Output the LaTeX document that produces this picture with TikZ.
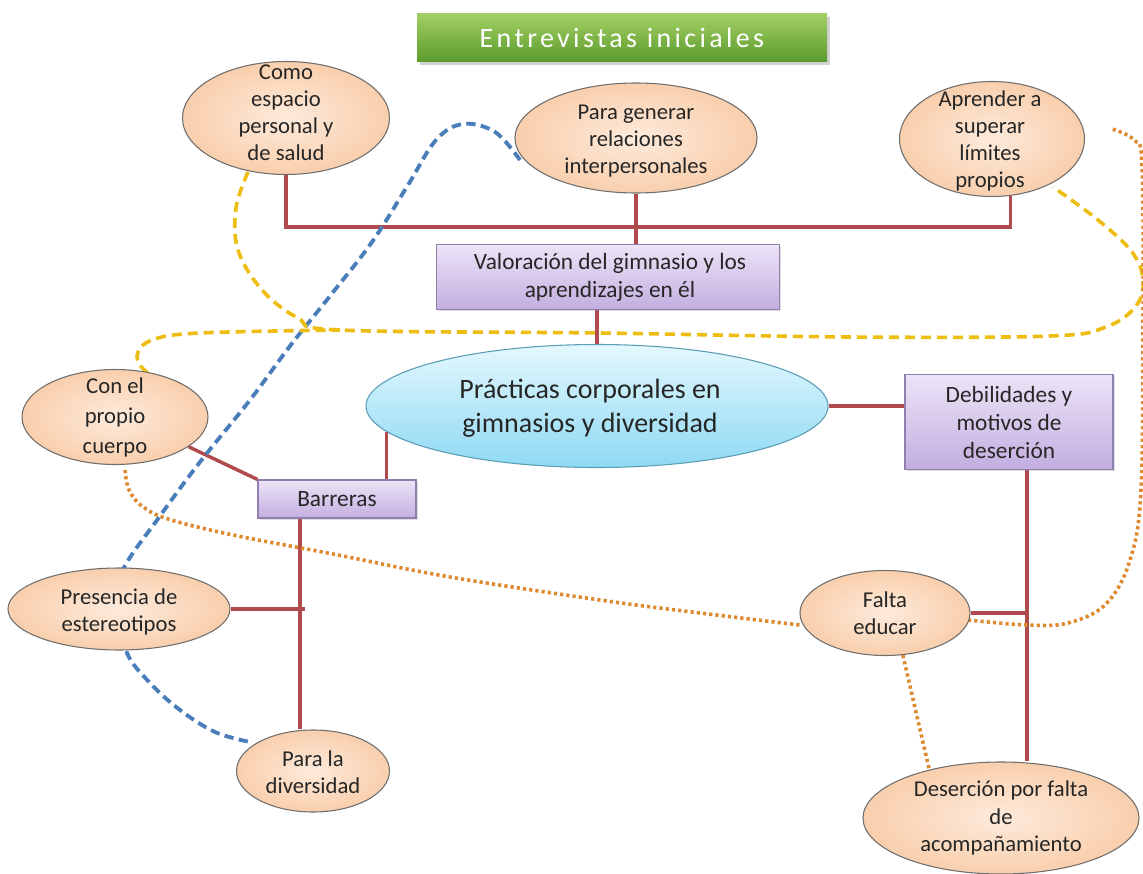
\documentclass[tikz,border=0pt]{standalone}
\usepackage{fontspec}
\setmainfont{Carlito}
\usetikzlibrary{shapes.geometric,shadows}
\definecolor{redline}{HTML}{B04A4C}
\definecolor{bluedash}{HTML}{4A7EBB}
\definecolor{yellowdash}{HTML}{EDBD12}
\definecolor{orangedot}{HTML}{DE8A30}
\definecolor{peachin}{HTML}{FDEADB}
\definecolor{peachout}{HTML}{F9CFAD}
\definecolor{ovalborder}{HTML}{6E6E6E}
\definecolor{boxtop}{HTML}{ECE4F7}
\definecolor{boxbot}{HTML}{C3AEE0}
\definecolor{boxborder}{HTML}{8F80B0}
\definecolor{cyanin}{HTML}{E4F8FE}
\definecolor{cyanout}{HTML}{8ED9F3}
\definecolor{cyanborder}{HTML}{5B9DB5}
\definecolor{greentop}{HTML}{A2CF64}
\definecolor{greenbot}{HTML}{5C9A2C}
\definecolor{textc}{HTML}{262626}
\pgfdeclarelayer{bg}
\pgfsetlayers{bg,main}
\tikzset{
  oval/.style={ellipse, draw=ovalborder, line width=0.8pt, inner sep=0pt,
    inner color=peachin, outer color=peachout},
  pbox/.style={rectangle, draw=boxborder, line width=0.8pt, inner sep=0pt,
    top color=boxtop, bottom color=boxbot,
    drop shadow={opacity=0.25, shadow xshift=1.2pt, shadow yshift=-1.2pt}},
  txt/.style={align=center, text=textc, inner sep=0pt,
    font=\fontsize{17}{20.3}\selectfont},
  btxt/.style={align=center, text=textc, inner sep=0pt,
    font=\fontsize{17.5}{21}\selectfont},
  redconn/.style={draw=redline, line width=2.6pt},
  bluecurve/.style={draw=bluedash, line width=2.9pt, dash pattern=on 7pt off 4pt},
  yellowcurve/.style={draw=yellowdash, line width=2.7pt, dash pattern=on 7.5pt off 4.5pt},
  orangecurve/.style={draw=orangedot, line width=2.7pt, dash pattern=on 2.4pt off 2.3pt}
}
\begin{document}
\begin{tikzpicture}[x=0.75pt,y=-0.75pt]
\useasboundingbox (0,0) rectangle (1143,874);

% title
\node[rectangle, inner sep=0pt, minimum width=307.5pt, minimum height=36pt,
  top color=greentop, bottom color=greenbot,
  drop shadow={opacity=0.35, shadow xshift=2pt, shadow yshift=-2pt}] (title) at (622,38) {};
\node[text=white, inner sep=0pt, font=\fontsize{21}{25}\selectfont\addfontfeature{LetterSpace=12}] (titletext) at (622,38) {Entrevistas iniciales};

% shapes
\node[oval, minimum width=155.25pt, minimum height=84.75pt] (como) at (286,118) {};
\node[oval, minimum width=181.5pt, minimum height=82.5pt] (rel) at (636,138) {};
\node[oval, minimum width=138.75pt, minimum height=86.25pt] (apr) at (992,139) {};
\node[pbox, minimum width=257.25pt, minimum height=48.75pt] (val) at (608,277) {};
\node[ellipse, draw=cyanborder, line width=0.8pt, inner sep=0pt,
  top color=cyanin, bottom color=cyanout,
  minimum width=346.5pt, minimum height=92.25pt] (cen) at (597,406) {};
\node[pbox, minimum width=156pt, minimum height=71.25pt] (deb) at (1009,422) {};
\node[oval, minimum width=139.5pt, minimum height=71.25pt] (con) at (115,417) {};
\node[pbox, minimum width=118.5pt, minimum height=28.5pt] (bar) at (337,499) {};
\node[oval, minimum width=166.5pt, minimum height=61.5pt] (pre) at (119,609) {};
\node[oval, minimum width=114.75pt, minimum height=61.5pt] (par) at (313,771) {};
\node[oval, minimum width=127.5pt, minimum height=63.75pt] (fal) at (885,613) {};
\node[oval, minimum width=207pt, minimum height=84pt] (des) at (1001,818) {};

% texts
\node[txt] (comot) at (286,113) {Como\\espacio\\personal y\\de salud};
\node[txt] (relt) at (636,141) {Para generar\\relaciones\\interpersonales};
\node[txt] (aprt) at (990,141) {Aprender a\\superar\\límites\\propios};
\node[btxt] (valt) at (610,277) {Valoración del gimnasio y los\\aprendizajes en él};
\node[align=center, text=textc, inner sep=0pt, font=\fontsize{21}{25.5}\selectfont] (cent) at (590,408) {Prácticas corporales en\\gimnasios y diversidad};
\node[btxt] (debt) at (1009,422) {Debilidades y\\motivos de\\deserción};
\node[txt, font=\fontsize{17}{22.5}\selectfont] (cont) at (115,417) {Con el\\propio\\cuerpo};
\node[btxt] (bart) at (337,499) {Barreras};
\node[txt] (pret) at (119,612) {Presencia de\\estereotipos};
\node[txt] (part) at (313,772) {Para la\\diversidad};
\node[txt] (falt) at (885,613) {Falta\\educar};
\node[txt] (dest) at (1001,818) {Deserción por falta\\de\\acompañamiento};

\coordinate (hbar) at (636,227);
\coordinate (debv) at ([xshift=13.5pt]deb.south);
\coordinate (barv) at ([xshift=-27.75pt]bar.south);

\begin{pgfonlayer}{bg}
\fill[white] (0,0) rectangle (1143,874);
% red connectors
\draw[redconn] (como.south) |- (hbar) -| (apr.-72);
\draw[redconn] (rel.south) -- (rel.south |- val.north);
\draw[redconn] (val.south -| cen.north) -- (cen.north);
\draw[redconn] (cen.east) -- (cen.east -| deb.west);
\draw[redconn] (debv) -- (debv |- des.north);
\draw[redconn] (fal.east) -- (debv |- fal.east);
\draw[redconn] (cen.187.6) -- (cen.187.6 |- bar.north);
\draw[redconn] (con.-22) -- (bar.north west);
\draw[redconn] (barv) -- (barv |- par.north);
\draw[redconn] (pre.east) -- ([xshift=3.75pt]barv |- pre.east);

% blue dashed
\draw[bluecurve] plot[smooth, tension=0.6] coordinates {
  (520,160) (495,132) (463,124) (436,140) (408,185) (372,242) (330,296)
  (290,346) (250,400) (200,462) (160,516) (122,572) (120,612) (127,653)
  (150,683) (180,710) (215,732) (250,742)};

% yellow dashed
\draw[yellowcurve] plot[smooth, tension=0.6] coordinates {
  (248,172) (236,208) (238,250) (262,290) (298,318) (340,330) (600,333)
  (850,337) (1050,336) (1106,327) (1136,306) (1143,280) (1132,252)
  (1098,220) (1053,187)};
\draw[yellowcurve] plot[smooth, tension=0.6] coordinates {
  (177,385) (148,373) (137,356) (152,340) (200,333) (340,330)};

% orange dotted
\draw[orangecurve] plot[smooth, tension=0.6] coordinates {
  (125,470) (129,490) (142,506) (168,519) (233,535) (333,554) (450,577)
  (600,600) (700,613) (800,625)};
\draw[orangecurve] plot[smooth, tension=0.6] coordinates {
  (968,620) (1027,625) (1068,623) (1106,604) (1130,560) (1141,490)
  (1143,320) (1142,165) (1134,140) (1112,129)};
\draw[orangecurve] (fal.-67) -- (des.146);
\end{pgfonlayer}
\end{tikzpicture}
\end{document}
